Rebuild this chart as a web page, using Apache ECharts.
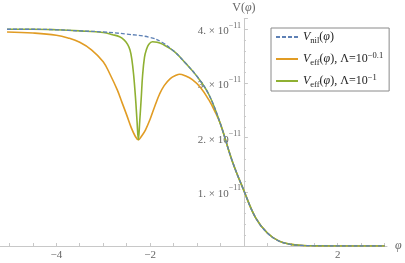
<!DOCTYPE html>
<html><head><meta charset="utf-8">
<script src="https://cdn.jsdelivr.net/npm/echarts@6/dist/echarts.min.js"></script>
<style>html,body{margin:0;padding:0;background:#fff}#c{width:405px;height:263px}</style>
</head><body><div id="c"></div>
<script>
// values in units of 1e-11
var phiNil = [-5.05,-4.5,-4,-3.5,-3,-2.5,-2,-1.75,-1.5,-1.25,-1,-0.75,-0.5,-0.25,0,0.25,0.5,0.75,1,1.25,1.5,2,2.5,3];
var vNil   = [4.00,4.00,3.99,3.97,3.95,3.91,3.85,3.76,3.60,3.38,3.13,2.80,2.25,1.57,1.02,0.52,0.24,0.09,0.03,0.01,0.003,0,0,0];

var phiEffA = [-5.05,-4.5,-4,-3.75,-3.5,-3.25,-3.0,-2.85,-2.7,-2.6,-2.5,-2.4,-2.32,-2.25,-2.18,-2.1,-2.0,-1.9,-1.8,-1.7,-1.57,-1.45,-1.37,-1.25,-1.1,-0.93,-0.75,-0.6,-0.5,-0.25,0,0.25,0.5,0.75,1,1.25,1.5,2,2.5,3];
var vEffA   = [3.95,3.93,3.89,3.84,3.76,3.62,3.40,3.16,2.88,2.65,2.42,2.18,2.03,1.96,2.03,2.14,2.34,2.58,2.80,2.96,3.09,3.15,3.17,3.14,3.07,2.93,2.70,2.45,2.25,1.57,1.02,0.52,0.24,0.09,0.03,0.01,0.003,0,0,0];

var phiEffB = [-5.05,-4.5,-4,-3.5,-3,-2.8,-2.65,-2.55,-2.48,-2.43,-2.39,-2.35,-2.31,-2.28,-2.25,-2.22,-2.19,-2.16,-2.12,-2.08,-2.03,-1.95,-1.85,-1.75,-1.5,-1.25,-1,-0.75,-0.5,-0.25,0,0.25,0.5,0.75,1,1.25,1.5,2,2.5,3];
var vEffB   = [4.00,4.00,3.99,3.97,3.94,3.90,3.86,3.80,3.72,3.62,3.45,3.15,2.72,2.32,1.96,2.32,2.72,3.15,3.48,3.62,3.72,3.77,3.76,3.73,3.60,3.38,3.13,2.80,2.25,1.57,1.02,0.52,0.24,0.09,0.03,0.01,0.003,0,0,0];

var xLabels = [-4,-2,2];
var xTicks = [-5,-4.5,-4,-3.5,-3,-2.5,-2,-1.5,-1,-0.5,0.5,1,1.5,2,2.5,3];
var yLabels = [1,2,3,4];

function pairs(xs, ys){ return xs.map(function(x,i){return [x, ys[i]];}); }

var serif = '"Liberation Serif","DejaVu Serif",serif';
var gray = '#666';
var axisCol = '#c8c8c8';
var ink = '#222';
var X_MIN = -5.2, X_MAX = 3.05, GRID_W = 387;
var yAxisOffset = -GRID_W * (0 - X_MIN) / (X_MAX - X_MIN);

var chart = echarts.init(document.getElementById('c'), null, {renderer:'canvas'});
chart.setOption({
  animation:false,
  grid:{left:0, width:GRID_W, top:18.4, bottom:17, containLabel:false, outerBoundsMode:'none'},
  xAxis:{
    type:'value', min:X_MIN, max:X_MAX,
    axisLine:{onZero:true, lineStyle:{color:axisCol, width:1}},
    axisTick:{show:true, inside:true, length:3, customValues:xTicks, lineStyle:{color:axisCol}},
    axisLabel:{customValues:xLabels, color:gray, fontFamily:serif, fontSize:11, margin:4,
      formatter:function(v){return v<0 ? '\u2212'+Math.abs(v) : ''+v;}},
    splitLine:{show:false},
    name:'\u03c6', nameLocation:'end', nameGap:8,
    nameTextStyle:{color:gray, fontFamily:serif, fontSize:12, fontStyle:'italic'}
  },
  yAxis:{
    type:'value', min:0, max:4.2, interval:1, position:'left', offset:yAxisOffset,
    axisLine:{show:true, onZero:false, lineStyle:{color:axisCol, width:1}},
    axisTick:{show:true, inside:true, length:4, lineStyle:{color:axisCol}},
    minorTick:{show:true, splitNumber:5, length:2, lineStyle:{color:axisCol}},
    axisLabel:{show:true, hideOverlap:false, customValues:yLabels, color:gray, fontFamily:serif, fontSize:11, margin:3,
      formatter:function(v){ return '{n|'+v+'. \u00d7 10}{s|\u221211}'; },
      rich:{n:{fontFamily:serif, fontSize:11, color:gray, verticalAlign:'bottom', lineHeight:15},
            s:{fontFamily:serif, fontSize:8, color:gray, verticalAlign:'top', lineHeight:15}}},
    splitLine:{show:false},
    name:'{t|V(}{i|\u03c6}{t|)}', nameLocation:'end', nameGap:5,
    nameTextStyle:{color:gray, fontFamily:serif, fontSize:12, align:'center',
      rich:{t:{fontFamily:serif, fontSize:12, color:gray}, i:{fontFamily:serif, fontSize:12, fontStyle:'italic', color:gray}}}
  },
  legend:{
    orient:'vertical', left:271, top:28, width:116,
    backgroundColor:'#fff', borderColor:'#8a8a8a', borderWidth:1,
    padding:[3,6,2,4], itemWidth:22, itemHeight:12, itemGap:6,
    itemStyle:{opacity:0},
    textStyle:{fontFamily:serif, fontSize:12, color:ink,
      rich:{i:{fontFamily:serif, fontSize:12, fontStyle:'italic', color:ink, lineHeight:16, verticalAlign:'middle'},
            sub:{fontFamily:serif, fontSize:8.5, color:ink, lineHeight:16, verticalAlign:'bottom'},
            sup:{fontFamily:serif, fontSize:8.5, color:ink, lineHeight:16, verticalAlign:'top'},
            t:{fontFamily:serif, fontSize:12, color:ink, lineHeight:16, verticalAlign:'middle'}}},
    formatter:function(name){
      if(name==='nil') return '{i|V}{sub|nil}{t|(}{i|\u03c6}{t|)}';
      if(name==='a') return '{i|V}{sub|eff}{t|(}{i|\u03c6}{t|), \u039b=10}{sup|\u22120.1}';
      return '{i|V}{sub|eff}{t|(}{i|\u03c6}{t|), \u039b=10}{sup|\u22121}';
    },
    data:['nil','a','b']
  },
  series:[
    {name:'nil', type:'line', data:pairs(phiNil,vNil), smooth:0.4, symbol:'none', z:4,
      lineStyle:{color:'#5E81B5', width:1.3, type:[4,2]}, itemStyle:{color:'#5E81B5'}},
    {name:'a', type:'line', data:pairs(phiEffA,vEffA), smooth:0.4, symbol:'none', z:2,
      lineStyle:{color:'#E19C24', width:1.6}, itemStyle:{color:'#E19C24'}},
    {name:'b', type:'line', data:pairs(phiEffB,vEffB), smooth:0.4, symbol:'none', z:3,
      lineStyle:{color:'#8FB032', width:1.6}, itemStyle:{color:'#8FB032'}}
  ]
});
</script></body></html>
